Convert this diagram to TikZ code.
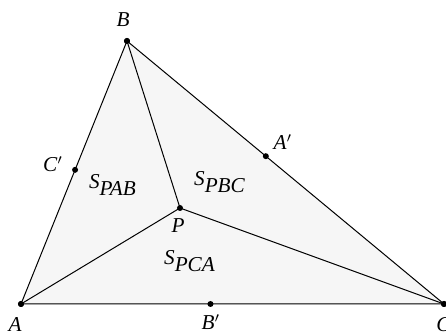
\documentclass[tikz,border=0pt]{standalone}
\usepackage{fontspec}
\setmainfont{Liberation Serif}
\usetikzlibrary{calc}
\definecolor{areagray}{RGB}{246,246,246}
\tikzset{
  pt/.style={circle, fill=black, inner sep=0pt, minimum size=3pt},
  lbl/.style={inner sep=0pt, anchor=base, font=\fontsize{10.6}{12}\selectfont\itshape}
}

\begin{document}
\begin{tikzpicture}[x=0.5pt, y=0.5pt, line width=0.5pt]
\useasboundingbox (0,0) rectangle (446,332);
\node[pt] (A) at (21,28) {};
\node[pt] (B) at (127,291) {};
\node[pt] (C) at (444,28) {};
\node[pt] (P) at (180,124) {};
\fill[areagray] (A.center) -- (B.center) -- (C.center) -- cycle;
\draw (A.center) -- (B.center) -- (C.center) -- cycle;
\draw (P.center) -- (A.center);
\draw (P.center) -- (B.center);
\draw (P.center) -- (C.center);
\node[pt] (A) at (21,28) {}; \node[pt] (B) at (127,291) {};
\node[pt] (C) at (444,28) {}; \node[pt] (P) at (180,124) {};
% feet of the cevians through P
\node[pt] (A1) at (intersection of A.center--P.center and B.center--C.center) {};
\node[pt] (B1) at (intersection of B.center--P.center and A.center--C.center) {};
\node[pt] (C1) at (intersection of C.center--P.center and A.center--B.center) {};
\node[lbl] (lA) at (15,0) {A};
\node[lbl] (lB) at (123,305) {B};
\node[lbl, anchor=base west] (lC) at (436,0) {C};
\node[lbl] (lP) at (178,99) {P};
\node[lbl] (lA1) at (283,182) {A$'$};
\node[lbl] (lB1) at (211,2) {B$'$};
\node[lbl] (lC1) at (53,160) {C$'$};
\node[lbl] (sPAB) at (113,143) {S$_{\textit{PAB}}$};
\node[lbl] (sPBC) at (220,146) {S$_{\textit{PBC}}$};
\node[lbl] (sPCA) at (190,67) {S$_{\textit{PCA}}$};
\end{tikzpicture}
\end{document}
